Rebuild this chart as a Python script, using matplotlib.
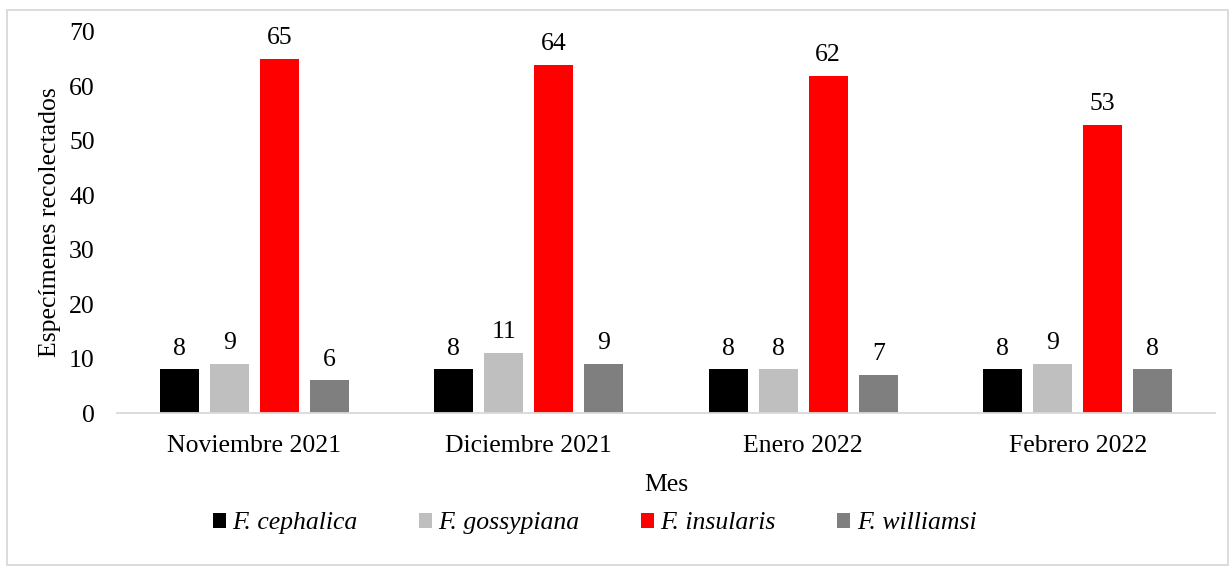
import matplotlib
matplotlib.use("Agg")
import matplotlib.pyplot as plt
from matplotlib.patches import Rectangle
import numpy as np

months = ["Noviembre 2021", "Diciembre 2021", "Enero 2022", "Febrero 2022"]
species = ["F. cephalica", "F. gossypiana", "F. insularis", "F. williamsi"]
cephalica = [8, 8, 8, 8]
gossypiana = [9, 11, 8, 9]
insularis = [65, 64, 62, 53]
williamsi = [6, 9, 7, 8]
colors = ["#000000", "#BFBFBF", "#FF0000", "#7F7F7F"]

plt.rcParams['font.family'] = ['Liberation Serif', 'DejaVu Serif']
FS = 18.5

W, H = 1231, 569
fig = plt.figure(figsize=(W / 100, H / 100), dpi=100)
ax = fig.add_axes([117 / W, 1 - 413 / H, (1215 - 117) / W, (413 - 32) / H])

series = [cephalica, gossypiana, insularis, williamsi]
x = np.arange(len(months))
width = 0.143
offsets = [-0.273, -0.091, 0.091, 0.273]
for vals, name, c, off in zip(series, species, colors, offsets):
    bars = ax.bar(x + off, vals, width, color=c, label=name)
    ax.bar_label(bars, padding=7, fontsize=FS)

ax.set_xlim(-0.5, 3.5)
ax.set_ylim(0, 70)
ax.set_yticks(range(0, 71, 10))
ax.set_xticks(x)
ax.set_xticklabels(months)
ax.tick_params(axis='both', length=0, labelsize=FS)
ax.tick_params(axis='x', pad=16)
ax.tick_params(axis='y', pad=16)
for s in ["top", "right", "left"]:
    ax.spines[s].set_visible(False)
ax.spines["bottom"].set_color("#D9D9D9")
ax.spines["bottom"].set_linewidth(1.3)

ax.set_ylabel("Especímenes recolectados", fontsize=FS, labelpad=6)
ax.set_xlabel("Mes", fontsize=FS, labelpad=12)

leg = ax.legend(loc="center", bbox_to_anchor=(0.435, -0.29), ncol=4, frameon=False,
                prop={'size': FS, 'style': 'italic'}, handlelength=0.5, handleheight=0.5,
                handletextpad=0.25, columnspacing=2.4)

fig.patches.append(Rectangle((7 / W, 1 - 565 / H), (1228 - 7) / W, (565 - 10) / H,
                             transform=fig.transFigure, fill=False,
                             edgecolor="#D9D9D9", linewidth=1.3))

fig.savefig("out.png", dpi=100, facecolor="white")
